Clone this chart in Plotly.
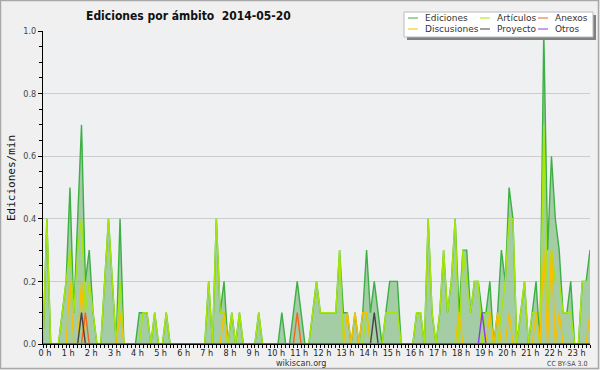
import plotly.graph_objects as go

# ---- data: edits per minute, 10-minute buckets from 0:00 to 23:40 ----
hour_labels = [f"{h} h" for h in range(24)]

ediciones = [
    0, 0.4, 0, 0, 0, 0.1,
    0.2, 0.5, 0.1, 0.4, 0.7, 0.2,
    0.3, 0.1, 0, 0, 0.2, 0.4,
    0.2, 0, 0.4, 0, 0, 0,
    0, 0.1, 0.1, 0.1, 0, 0.1,
    0, 0, 0.1, 0, 0, 0,
    0, 0, 0, 0, 0, 0,
    0, 0.2, 0, 0.4, 0.1, 0.2,
    0, 0.1, 0, 0.1, 0, 0,
    0, 0, 0.1, 0, 0, 0,
    0, 0, 0.1, 0, 0, 0.1,
    0.2, 0.1, 0, 0, 0.1, 0.2,
    0.1, 0.1, 0.1, 0.1, 0.1, 0.3,
    0.1, 0.1, 0, 0.1, 0, 0.1,
    0.3, 0.1, 0.2, 0.1, 0, 0.1,
    0.2, 0.2, 0.2, 0, 0, 0,
    0, 0.1, 0.1, 0, 0.4, 0.1,
    0, 0.1, 0.3, 0.1, 0.2, 0.4,
    0.1, 0.3, 0.3, 0.1, 0.2, 0.2,
    0.1, 0.1, 0.2, 0, 0.1, 0.3,
    0.2, 0.5, 0.4, 0, 0.1, 0.2,
    0, 0.1, 0.2, 0, 1.0, 0.3,
    0.6, 0.4, 0.3, 0.1, 0.1, 0.2,
    0, 0, 0.2, 0.2, 0.3,
]

articulos = [
    0, 0.4, 0, 0, 0, 0.1,
    0.2, 0.3, 0.1, 0.3, 0.4, 0.1,
    0.2, 0.1, 0, 0, 0.2, 0.4,
    0.2, 0, 0.2, 0, 0, 0,
    0, 0, 0.1, 0.1, 0, 0.1,
    0, 0, 0.1, 0, 0, 0,
    0, 0, 0, 0, 0, 0,
    0, 0.2, 0, 0.4, 0.1, 0.1,
    0, 0.1, 0, 0.1, 0, 0,
    0, 0, 0.1, 0, 0, 0,
    0, 0, 0, 0, 0, 0,
    0, 0, 0, 0, 0.1, 0.2,
    0.1, 0.1, 0.1, 0.1, 0.1, 0.3,
    0, 0, 0, 0, 0, 0,
    0.1, 0, 0, 0, 0, 0.1,
    0.1, 0.1, 0.1, 0, 0, 0,
    0, 0.1, 0.1, 0, 0.4, 0.1,
    0, 0.1, 0.3, 0.1, 0.2, 0.4,
    0, 0.3, 0.2, 0.1, 0.2, 0.2,
    0, 0.1, 0.1, 0, 0, 0.1,
    0.2, 0.4, 0.4, 0, 0.1, 0.2,
    0, 0.1, 0.1, 0, 0.7, 0.1,
    0.3, 0.2, 0.2, 0.1, 0.1, 0.1,
    0, 0, 0.2, 0.2, 0.2,
]

discusiones = [0] * 143
for i, v in {7: 0.2, 10: 0.2, 20: 0.1, 47: 0.1, 79: 0.1, 81: 0.1, 83: 0.1, 84: 0.1,
             108: 0.1, 116: 0.1, 118: 0.1, 121: 0.1, 128: 0.1, 130: 0.3, 132: 0.3,
             134: 0.1, 142: 0.1}.items():
    discusiones[i] = v

anexos = [0] * 143
for i, v in {11: 0.1, 66: 0.1}.items():
    anexos[i] = v

proyecto = [0] * 143
for i, v in {10: 0.1, 86: 0.1}.items():
    proyecto[i] = v

otros = [0] * 143
for i, v in {114: 0.1}.items():
    otros[i] = v

x = list(range(len(ediciones)))

# ---- styling ----
C_EDI = "#3cb043"
C_ART = "#a6e60a"
C_DIS = "#f5c000"
C_ANE = "#f26522"
C_PRO = "#444444"
C_OTR = "#8a3ee6"
FILL = "rgba(104,176,104,0.55)"

L, R, T, B = 43, 590, 31, 344
W, H = R - L, B - T


def px(v):
    return (v - L) / W


def py(v):
    return (B - v) / H


fig = go.Figure()
fig.add_trace(go.Scatter(x=x, y=ediciones, mode="lines", line=dict(width=0),
                         fill="tozeroy", fillcolor=FILL, hoverinfo="skip", showlegend=False))
series = [
    ("Ediciones", ediciones, C_EDI),
    ("Artículos", articulos, C_ART),
    ("Discusiones", discusiones, C_DIS),
    ("Anexos", anexos, C_ANE),
    ("Proyecto", proyecto, C_PRO),
    ("Otros", otros, C_OTR),
]
for name, ys, col in series:
    fig.add_trace(go.Scatter(x=x, y=ys, mode="lines", name=name,
                             line=dict(color=col, width=1.4), showlegend=False))

shapes = []
annotations = []

# manual legend
shapes.append(dict(type="rect", xref="paper", yref="paper", layer="above",
                   x0=px(407), x1=px(596), y0=py(40), y1=py(15),
                   fillcolor="#808080", line=dict(width=0)))
shapes.append(dict(type="rect", xref="paper", yref="paper", layer="above",
                   x0=px(404), x1=px(593), y0=py(37), y1=py(12),
                   fillcolor="#ffffff", line=dict(color="#bbbbbb", width=1)))
legend_items = [
    ("Ediciones", C_EDI, 408, 18), ("Artículos", C_ART, 480, 18), ("Anexos", C_ANE, 538, 18),
    ("Discusiones", C_DIS, 408, 29), ("Proyecto", C_PRO, 480, 29), ("Otros", C_OTR, 538, 29),
]
for name, col, lx, ly in legend_items:
    shapes.append(dict(type="line", xref="paper", yref="paper", layer="above",
                       x0=px(lx), x1=px(lx + 10), y0=py(ly), y1=py(ly),
                       line=dict(color=col, width=1)))
    annotations.append(dict(xref="paper", yref="paper", x=px(lx + 15), y=py(ly),
                            xanchor="left", yanchor="middle", showarrow=False, text=name,
                            font=dict(family="DejaVu Sans", size=9, color="#333333")))

# outer border
shapes.append(dict(type="rect", xref="paper", yref="paper", layer="above",
                   x0=px(0.5), x1=px(598.5), y0=py(368.5), y1=py(0.5),
                   line=dict(color="#a8a8a8", width=1.5)))

annotations.append(dict(xref="paper", yref="paper", x=px(188), y=py(16),
                        xanchor="center", yanchor="middle", showarrow=False,
                        text="<b>Ediciones por ámbito  2014-05-20</b>",
                        font=dict(family="DejaVu Sans Condensed, Liberation Sans Narrow, DejaVu Sans",
                                  size=12, color="#111111")))
annotations.append(dict(xref="paper", yref="paper", x=px(11), y=py(178),
                        xanchor="center", yanchor="middle", showarrow=False, textangle=-90,
                        text="Ediciones/min",
                        font=dict(family="DejaVu Sans Mono", size=11, color="#111111")))
annotations.append(dict(xref="paper", yref="paper", x=px(301), y=py(363),
                        xanchor="center", yanchor="middle", showarrow=False,
                        text="wikiscan.org",
                        font=dict(family="DejaVu Sans Condensed, Liberation Sans Narrow, DejaVu Sans",
                                  size=9, color="#333333")))
annotations.append(dict(xref="paper", yref="paper", x=px(589), y=py(364),
                        xanchor="right", yanchor="middle", showarrow=False,
                        text="CC BY-SA 3.0",
                        font=dict(family="DejaVu Sans Condensed, Liberation Sans Narrow, DejaVu Sans",
                                  size=7, color="#444444")))

fig.update_layout(
    width=600, height=370,
    margin=dict(l=L, r=600 - R, t=T, b=370 - B, pad=0),
    paper_bgcolor="#f0f0f0",
    plot_bgcolor="#eef0f2",
    showlegend=False,
    shapes=shapes,
    annotations=annotations,
)
fig.update_xaxes(
    range=[0, 142], tickvals=list(range(0, 143, 6)), ticktext=hour_labels,
    showgrid=False, zeroline=False, showline=True, linecolor="black", linewidth=1,
    ticks="outside", ticklen=3, tickcolor="black", tickwidth=1,
    minor=dict(dtick=1, tick0=0, ticks="outside", ticklen=3, tickcolor="black", showgrid=False),
    tickfont=dict(family="DejaVu Sans Condensed, Liberation Sans Narrow, DejaVu Sans", size=9, color="#222222"),
    ticklabelshift=2, ticklabelstandoff=-3,
)
fig.update_yaxes(
    range=[0, 1.0], tickvals=[0, 0.2, 0.4, 0.6, 0.8, 1.0], tickformat=".1f",
    showgrid=True, gridcolor="#cccccc", gridwidth=1, zeroline=False,
    showline=True, linecolor="black", linewidth=1,
    ticks="outside", ticklen=4, tickcolor="black",
    minor=dict(dtick=0.05, tick0=0, ticks="outside", ticklen=3, tickcolor="black", showgrid=False),
    tickfont=dict(family="DejaVu Sans Condensed, Liberation Sans Narrow, DejaVu Sans", size=9, color="#444444"),
)

fig.write_html("out.html", config={"displayModeBar": False},
               post_script="document.body.style.margin='0';document.body.style.overflow='hidden';")
